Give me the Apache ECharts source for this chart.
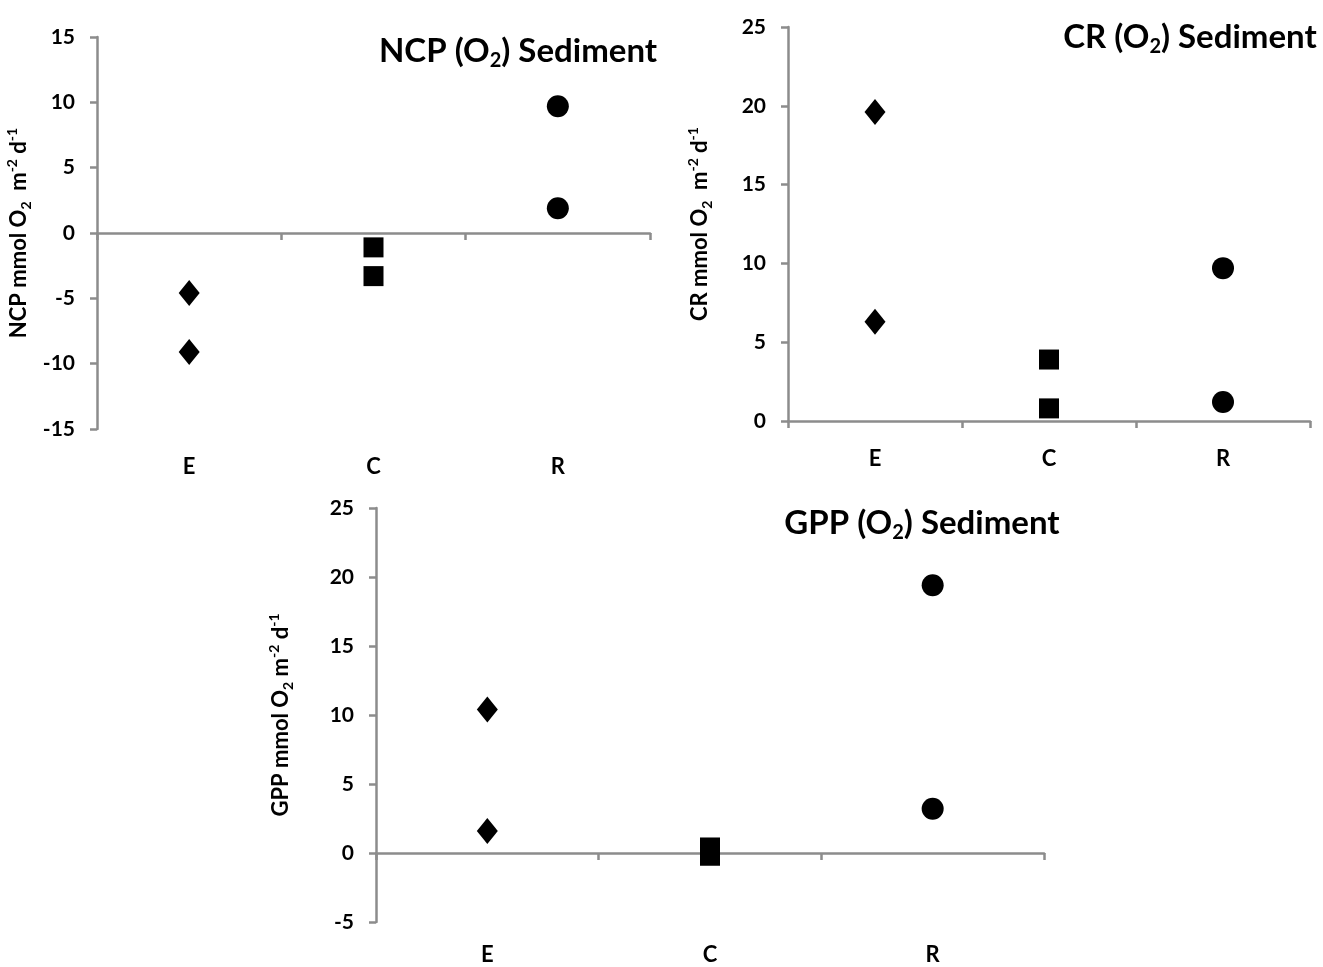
<!DOCTYPE html>
<html>
<head>
<meta charset="utf-8">
<script src="https://cdn.jsdelivr.net/npm/echarts@6/dist/echarts.min.js"></script>
<style>
  html, body { margin: 0; padding: 0; background: #fff; }
  #chart { width: 1323px; height: 967px; }
</style>
</head>
<body>
<div id="chart"></div>
<script>
// Sites on the x axis
var categories = ['E', 'C', 'R'];

// NCP values (two replicates per site)
var ncpE = [-4.6, -9.1];
var ncpC = [-1.1, -3.3];
var ncpR = [9.7, 1.9];

// CR values
var crE = [19.6, 6.3];
var crC = [3.9, 0.8];
var crR = [9.7, 1.2];

// GPP values
var gppE = [10.4, 1.6];
var gppC = [0.4, -0.2];
var gppR = [19.4, 3.2];

var FONT = 'Lato';
var AXIS_GREY = '#8c8c8c';

var rich = {
  a: { fontFamily: FONT, fontWeight: 'bold', fontSize: 22, color: '#000', lineHeight: 28 },
  sub: { fontFamily: FONT, fontWeight: 'bold', fontSize: 14, color: '#000', lineHeight: 26, verticalAlign: 'bottom' },
  sup: { fontFamily: FONT, fontWeight: 'bold', fontSize: 14, color: '#000', lineHeight: 28, verticalAlign: 'top' }
};
var titleRich = {
  a: { fontFamily: FONT, fontWeight: 'bold', fontSize: 33, color: '#000', lineHeight: 40 },
  sub: { fontFamily: FONT, fontWeight: 'bold', fontSize: 20, color: '#000', lineHeight: 36, verticalAlign: 'bottom' }
};

function pts(cat, vals) {
  return vals.map(function (v) { return [cat, v]; });
}

function makeTitle(label, left, top) {
  return {
    text: '{a|' + label + ' (O}{sub|2}{a|) Sediment}',
    left: left, top: top, textAlign: 'center',
    textStyle: { rich: titleRich }
  };
}

var grids = [
  { left: 97, top: 37, width: 553, height: 392 },
  { left: 788, top: 27, width: 522, height: 394 },
  { left: 376, top: 508, width: 668, height: 414 }
];

var yCfg = [
  { min: -15, max: 15, name: '{a|NCP mmol O}{sub|2}{a|  m}{sup|-2}{a| d}{sup|-1}', gap: 64 },
  { min: 0, max: 25, name: '{a|CR mmol O}{sub|2}{a|  m}{sup|-2}{a| d}{sup|-1}', gap: 74 },
  { min: -5, max: 25, name: '{a|GPP mmol O}{sub|2}{a| m}{sup|-2}{a| d}{sup|-1}', gap: 81 }
];
var labelMargin = [27, 27, 22];

var xAxes = [];
var yAxes = [];
grids.forEach(function (g, i) {
  // axis line crossing at zero, with ticks
  xAxes.push({
    type: 'category', gridIndex: i, data: categories, position: 'bottom',
    axisLine: { onZero: true, lineStyle: { color: AXIS_GREY, width: 2.5 } },
    axisTick: { show: true, length: 7, lineStyle: { color: AXIS_GREY, width: 2.5 } },
    axisLabel: { show: false },
    splitLine: { show: false }
  });
  // labels along the bottom of the plot
  xAxes.push({
    type: 'category', gridIndex: i, data: categories, position: 'bottom',
    axisLine: { show: false, onZero: false },
    axisTick: { show: false },
    axisLabel: { margin: labelMargin[i], fontFamily: FONT, fontWeight: 'bold', fontSize: 22, color: '#000' },
    splitLine: { show: false }
  });
  yAxes.push({
    type: 'value', gridIndex: i, min: yCfg[i].min, max: yCfg[i].max, interval: 5,
    name: yCfg[i].name, nameLocation: 'middle', nameGap: yCfg[i].gap, nameRotate: 90,
    nameTextStyle: { rich: rich },
    axisLine: { show: true, lineStyle: { color: AXIS_GREY, width: 2.5 } },
    axisTick: { show: true, length: 7, lineStyle: { color: AXIS_GREY, width: 2.5 } },
    axisLabel: { margin: 22, fontFamily: FONT, fontWeight: 'bold', fontSize: 21, color: '#000' },
    splitLine: { show: false }
  });
});

var groups = [
  [ncpE, ncpC, ncpR],
  [crE, crC, crR],
  [gppE, gppC, gppR]
];
var symbols = [
  { symbol: 'diamond', size: [21, 26] },
  { symbol: 'rect', size: 20 },
  { symbol: 'circle', size: 22 }
];

var series = [];
groups.forEach(function (grp, i) {
  grp.forEach(function (vals, j) {
    series.push({
      type: 'scatter',
      xAxisIndex: i * 2, yAxisIndex: i,
      symbol: symbols[j].symbol, symbolSize: symbols[j].size,
      itemStyle: { color: '#000', opacity: 1 },
      data: pts(categories[j], vals)
    });
  });
});

var myChart = echarts.init(document.getElementById('chart'));
myChart.setOption({
  backgroundColor: '#fff',
  animation: false,
  title: [
    makeTitle('NCP', 513, 26),
    makeTitle('CR', 1185, 12),
    makeTitle('GPP', 917, 498)
  ],
  grid: grids,
  xAxis: xAxes,
  yAxis: yAxes,
  series: series
});
</script>
</body>
</html>
